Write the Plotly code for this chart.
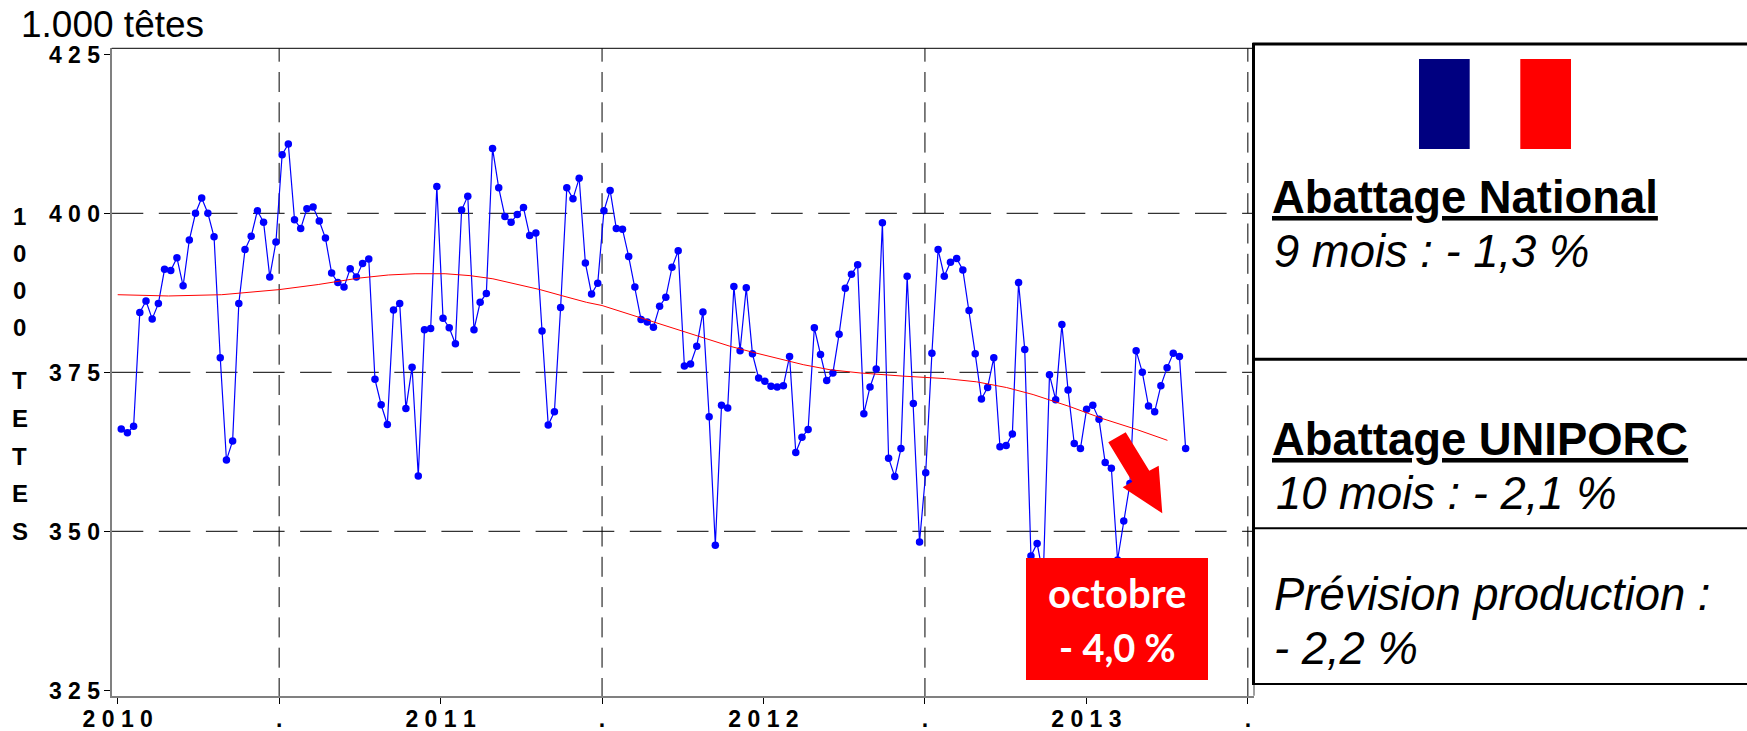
import plotly.graph_objects as go

W, H = 1747, 731
L, R, T, B = 111.7, 1254.0, 48.3, 695.7

# weekly slaughter (thousand head)
values_2010 = [366.1, 365.5, 366.5, 384.4, 386.2, 383.4, 385.8, 391.2, 391.0, 393.0, 388.6, 395.8, 400.0,
               402.4, 400.0, 396.3, 377.3, 361.2, 364.2, 385.8, 394.3, 396.4, 400.4, 398.6, 390.0, 395.5,
               409.2, 410.9, 399.0, 397.6, 400.7, 401.0, 398.8, 396.1, 390.6, 389.1, 388.4, 391.3, 390.0,
               392.1, 392.8, 373.9, 369.9, 366.8, 384.8, 385.8, 369.3, 375.8, 358.7, 381.7, 381.9, 404.2]
values_2011 = [383.5, 382.0, 379.5, 400.5, 402.7, 381.7, 386.0, 387.4, 410.2, 404.0, 399.5, 398.6, 399.8,
               400.9, 396.5, 396.9, 381.5, 366.7, 368.8, 385.2, 404.0, 402.3, 405.5, 392.2, 387.3, 389.0,
               400.4, 403.6, 397.6, 397.5, 393.2, 388.4, 383.3, 382.9, 382.1, 385.4, 386.8, 391.5, 394.1,
               376.0, 376.3, 379.1, 384.5, 368.0, 347.8, 369.8, 369.4, 388.5, 378.4, 388.3, 377.9, 374.1]
values_2012 = [373.6, 372.8, 372.7, 372.9, 377.5, 362.4, 364.8, 366.0, 382.0, 377.8, 373.7, 374.9, 381.0,
               388.2, 390.4, 391.9, 368.5, 372.7, 375.5, 398.5, 361.5, 358.6, 363.0, 390.1, 370.1, 348.3,
               359.2, 378.0, 394.3, 390.1, 392.3, 392.9, 391.1, 384.7, 377.9, 370.8, 372.6, 377.3, 363.3,
               363.5, 365.3, 389.1, 378.6, 346.1, 348.1, 343.0, 374.6, 370.7, 382.5, 372.2, 363.8, 363.0]
values_2013 = [369.2, 369.8, 367.6, 360.8, 359.9, 345.5, 351.6, 357.5, 378.4, 375.0, 369.7, 368.8, 372.9,
               375.7, 378.0, 377.5, 363.0]
values = values_2010 + values_2011 + values_2012 + values_2013
weeks = list(range(len(values)))
x_weekly = [2010 + (4 + 7 * w) / 365.25 for w in weeks]

trend_x = [2010.00, 2010.157, 2010.322, 2010.425, 2010.5, 2010.621, 2010.745, 2010.838, 2010.921,
           2011.014, 2011.091, 2011.162, 2011.236, 2011.308, 2011.379, 2011.452, 2011.5, 2011.587,
           2011.669, 2011.741, 2011.814, 2011.896, 2011.963, 2012.041, 2012.123, 2012.206, 2012.299,
           2012.432, 2012.567, 2012.660, 2012.753, 2012.835, 2012.949, 2013.051, 2013.156, 2013.251]
trend_y = [387.2, 387.0, 387.2, 387.6, 388.0, 388.8, 389.8, 390.3, 390.5,
           390.5, 390.2, 389.7, 388.9, 388.0, 387.0, 386.0, 385.5, 384.1,
           382.8, 381.6, 380.4, 379.1, 378.2, 377.2, 376.2, 375.4, 374.9,
           374.4, 374.0, 373.5, 372.6, 371.5, 369.6, 367.7, 366.0, 364.3]

x_ticks = [2010, 2010.5, 2011, 2011.5, 2012, 2012.5, 2013, 2013.5]
x_labels = ["2 0 1 0", ".", "2 0 1 1", ".", "2 0 1 2", ".", "2 0 1 3", "."]
y_ticks = [325, 350, 375, 400, 425]
y_labels = ["3 2 5", "3 5 0", "3 7 5", "4 0 0", "4 2 5"]
y_grid = [350, 375, 400]
x_grid = [2010.5, 2011.5, 2012.5, 2013.5]
side_letters = ["1", "0", "0", "0", "T", "E", "T", "E", "S"]
side_rows = [216, 253, 290, 327, 380, 418, 456, 493, 531]

YEAR_PX = 322.9
x0 = 2010 + (L - 117.7) / YEAR_PX
x1 = 2010 + (R - 117.7) / YEAR_PX
y0 = 325 - (B - 690.3) / 6.36
y1 = 425 + (54.3 - T) / 6.36

def px(x): return x / W
def py(y): return 1 - y / H

fig = go.Figure()
fig.add_trace(go.Scatter(x=x_weekly, y=values, mode="lines+markers",
                         line=dict(color="#0000FF", width=1.2),
                         marker=dict(color="#0000FF", size=7.5), hoverinfo="skip"))
fig.add_trace(go.Scatter(x=trend_x, y=trend_y, mode="lines",
                         line=dict(color="#FF0000", width=1), hoverinfo="skip"))

shapes = []
# dashed reference lines
for v in y_grid:
    shapes.append(dict(type="line", xref="paper", yref="y", x0=px(L), x1=px(R), y0=v, y1=v, layer="below",
                       line=dict(color="#000000", width=1, dash="31.6px,15.5px")))
v_dash = "13.4px,10.3px," + ",".join(["20px,10.3px"] * 24)
for v in x_grid:
    shapes.append(dict(type="line", xref="x", yref="paper", x0=v, x1=v, y0=py(T), y1=py(702), layer="below",
                       line=dict(color="#000000", width=1, dash=v_dash)))
# right-hand panel
def rect(xa, ya, xb, yb, fill=None, line=None):
    shapes.append(dict(type="rect", xref="paper", yref="paper", x0=px(xa), x1=px(xb), y0=py(yb), y1=py(ya),
                       fillcolor=fill or "rgba(0,0,0,0)", line=line or dict(width=0), layer="above"))
def hline(y, xa, xb, w):
    shapes.append(dict(type="line", xref="paper", yref="paper", x0=px(xa), x1=px(xb), y0=py(y), y1=py(y),
                       line=dict(color="#000000", width=w), layer="above"))
rect(1419, 59, 1469.7, 149, fill="#000080")
rect(1520.3, 59, 1571, 149, fill="#FF0000")
hline(44, 1252.5, W, 3)
hline(359.3, 1253, W, 3)
hline(528.3, 1253, W, 2)
hline(684, 1253, W, 2)
shapes.append(dict(type="line", xref="paper", yref="paper", x0=px(1253.5), x1=px(1253.5), y0=py(43), y1=py(685),
                   line=dict(color="#000000", width=3), layer="above"))
# frame pieces the axes do not draw
hline(T, L, R, 1)
shapes.append(dict(type="line", xref="paper", yref="paper", x0=px(R), x1=px(R), y0=py(685), y1=py(B),
                   line=dict(color="#808080", width=1.5), layer="above"))
# octobre box
rect(1026, 558, 1208, 680, fill="#FF0000")
# arrow
arrow = [(1108.3, 442.3), (1125.7, 432.3), (1149.3, 470.7), (1158.7, 465.7), (1162.3, 513.3), (1122.7, 487.3), (1132.3, 481.7)]
path = "M " + " L ".join(f"{px(a):.5f},{py(b):.5f}" for a, b in arrow) + " Z"
shapes.append(dict(type="path", xref="paper", yref="paper", path=path, fillcolor="#FF0000",
                   line=dict(width=0), layer="above"))

anns = []
def text(s, x, baseline, size, family="Liberation Sans", color="#000000", anchor="left"):
    anns.append(dict(text=s, xref="paper", yref="paper", x=px(x), y=py(baseline - 0.88 * size),
                     xanchor=anchor, yanchor="top", showarrow=False, borderpad=0, borderwidth=0,
                     font=dict(family=family, size=size, color=color), align=anchor))

text("1.000 têtes", 21, 36.7, 37)
for ch, row in zip(side_letters, side_rows):
    text(f"<b>{ch}</b>", 19.5, row + 8, 24, anchor="center")
text("<b><u>Abattage National</u></b>", 1272, 212.3, 45.4)
text("<i>9 mois : - 1,3 %</i>", 1274, 266, 45.4)
text("<b><u>Abattage UNIPORC</u></b>", 1272, 454.3, 45.4)
text("<i>10 mois : - 2,1 %</i>", 1276, 507.7, 45.4)
text("<i>Prévision production :</i>", 1274, 609.3, 45.4)
text("<i>- 2,2 %</i>", 1274, 663.3, 45.4)
text("<b>octobre</b>", 1117, 604.5, 40, family="Lato", color="#FFFFFF", anchor="center")
text("<b>- 4,0 %</b>", 1117, 657, 38, family="Lato", color="#FFFFFF", anchor="center")

fig.update_layout(
    width=W, height=H, autosize=False, margin=dict(l=0, r=0, t=0, b=0),
    paper_bgcolor="#FFFFFF", plot_bgcolor="#FFFFFF", showlegend=False,
    shapes=shapes, annotations=anns, font=dict(family="Liberation Sans", color="#000000"),
    xaxis=dict(domain=[px(L), px(R)], range=[x0, x1], tickmode="array", tickvals=x_ticks,
               ticktext=[f"<b>{t}</b>" for t in x_labels], automargin=False,
               ticks="outside", ticklen=6, tickwidth=1, tickcolor="#000000", showgrid=False, zeroline=False,
               showline=True, linecolor="#808080", linewidth=2, mirror=False, ticklabelstandoff=-4,
               tickfont=dict(family="Liberation Sans", size=23, color="#000000"), tickangle=0),
    yaxis=dict(domain=[py(B), py(T)], range=[y0, y1], tickmode="array", tickvals=y_ticks,
               ticktext=[f"<b>{t}</b>" for t in y_labels], automargin=False,
               ticks="outside", ticklen=6, tickwidth=1, tickcolor="#000000", showgrid=False, zeroline=False,
               showline=True, linecolor="#808080", linewidth=2, mirror=False, ticklabelstandoff=-1, ticklabelshift=1,
               tickfont=dict(family="Liberation Sans", size=23, color="#000000")),
)
fig.write_html("out.html", post_script="document.body.style.margin='0';", config=dict(displayModeBar=False))
